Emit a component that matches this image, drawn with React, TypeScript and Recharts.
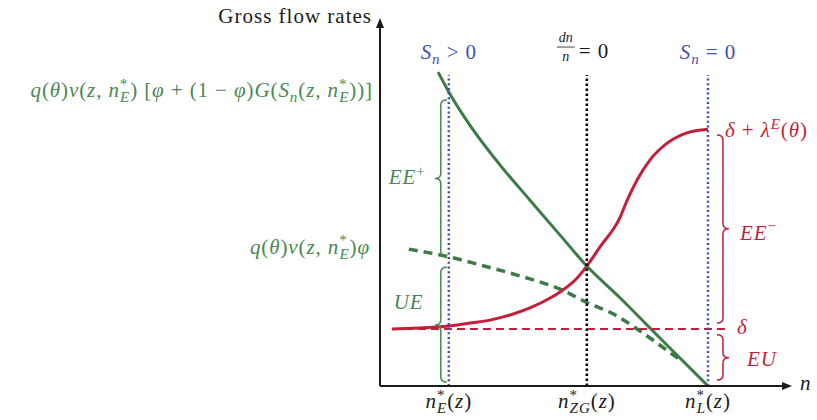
import React from 'react';
import { LineChart, Line, XAxis, YAxis, ReferenceLine, ReferenceDot } from 'recharts';

const GREEN = '#3c7a46';
const GREEN_TEXT = '#4a8752';
const RED = '#c41f3a';
const BLUE = '#3f52b3';
const INK = '#1b1b1b';
const SERIF = '"Liberation Serif", "DejaVu Serif", serif';
const FS = 21;

// key points on the n axis
const nE = 1.67;
const nZG = 5.02;
const nL = 7.96;
const nMax = 10;
const rateMax = 10;
// exogenous separation rate
const delta = 1.55;
// where the dotted guides stop
const guideTop = 8.45;

// q(θ)v(z,n)[φ + (1−φ)G(S_n)] : hires from unemployment and poaching
const hireAllN = [1.41, 1.67, 2.18, 2.91, 3.64, 4.37, 5.02, 5.83, 6.55, 7.28, 7.96];
const hireAllRate = [8.53, 7.99, 7.09, 6.01, 5.05, 4.1, 3.26, 2.39, 1.58, 0.76, 0];

// q(θ)v(z,n)φ : hires from unemployment only
const hireUN = [0.7, 1.67, 2.43, 3.4, 4.42, 5.02, 5.66, 6.24, 6.72, 7.28];
const hireURate = [3.72, 3.51, 3.29, 2.99, 2.61, 2.27, 1.96, 1.55, 1.17, 0.71];

// δ + λ^E(θ)·(share poached away) : total separations
const sepN = [0.29, 1.38, 1.67, 2.18, 2.67, 3.16, 3.64, 4.13, 4.44, 4.78, 5.02, 5.34, 5.83, 6.0, 6.24, 6.55, 6.97, 7.45, 7.96];
const sepRate = [1.55, 1.6, 1.63, 1.71, 1.79, 1.93, 2.12, 2.39, 2.61, 2.93, 3.26, 3.78, 4.59, 5.05, 5.6, 6.14, 6.6, 6.88, 6.98];

// braces: value range they span and where the tip sits
const greenBraces = [
  { top: 7.77, bottom: 3.51, tip: 5.64 },
  { top: 3.23, bottom: 0.11, tip: 1.66 },
];
const redBraces = [
  { top: 6.82, bottom: 1.71, tip: 4.27 },
  { top: 1.39, bottom: 0.16, tip: 0.77 },
];

const zip = (xs: number[], ys: number[]) => xs.map((x, i) => ({ x, y: ys[i] }));
const hireAll = zip(hireAllN, hireAllRate);
const hireU = zip(hireUN, hireURate);
const sep = zip(sepN, sepRate);

// --- tiny math typesetter: letters italic, _{..} subscript, ^{..} superscript
type Piece = { s: string; lvl: number; it: boolean; back: number };
const ITALIC = /[A-Za-zθφδλ]/;

function parseMath(src: string): Piece[] {
  const out: Piece[] = [];
  let i = 0;
  let lastSup = 0;
  while (i < src.length) {
    const c = src[i];
    if ((c === '_' || c === '^') && src[i + 1] === '{') {
      const end = src.indexOf('}', i);
      const inner = src.slice(i + 2, end);
      const lvl = c === '^' ? 1 : -1;
      const prev = out[out.length - 1];
      const back = lvl === -1 && prev && prev.lvl === 1 ? lastSup : 0;
      out.push({ s: inner, lvl, it: ITALIC.test(inner), back });
      if (lvl === 1) lastSup = inner.length;
      i = end + 1;
    } else {
      const it = ITALIC.test(c);
      const prev = out[out.length - 1];
      if (prev && prev.lvl === 0 && prev.it === it) prev.s += c;
      else out.push({ s: c, lvl: 0, it, back: 0 });
      i++;
    }
  }
  return out;
}

const MathText = ({ x, y, src, fill, anchor = 'start', fs = FS }: any) => {
  let cur = 0;
  return (
    <text x={x} y={y} fontSize={fs} fill={fill} textAnchor={anchor} fontFamily={SERIF} letterSpacing={0.9} style={{ whiteSpace: 'pre' }}>
      {parseMath(src).map((p, k) => {
        const off = p.lvl === 1 ? -0.4 * fs : p.lvl === -1 ? 0.25 * fs : 0;
        const dy = off - cur;
        cur = off;
        return (
          <tspan
            key={k}
            dy={dy}
            dx={p.back ? -p.back * 0.55 * fs * 0.72 : undefined}
            fontSize={p.lvl ? fs * 0.72 : fs}
            fontStyle={p.it ? 'italic' : 'normal'}
          >
            {p.s}
          </tspan>
        );
      })}
    </text>
  );
};

// text pinned to a data point, shifted by a few pixels
const at = (dx: number, dy: number, src: string, fill: string, anchor = 'start') => (p: any) => (
  <MathText x={p.cx + dx} y={p.cy + dy} src={src} fill={fill} anchor={anchor} />
);

const fractionLabel = (p: any) => {
  const cx = p.cx - 21;
  return (
    <g fontFamily={SERIF} fill={INK}>
      <text x={cx} y={p.cy - 33} fontSize={14} fontStyle="italic" textAnchor="middle">dn</text>
      <line x1={cx - 9} x2={cx + 9} y1={p.cy - 28} y2={p.cy - 28} stroke={INK} strokeWidth={0.8} />
      <text x={cx} y={p.cy - 14} fontSize={14} fontStyle="italic" textAnchor="middle">n</text>
      <text x={cx + 13} y={p.cy - 17} fontSize={FS} letterSpacing={0.9} style={{ whiteSpace: 'pre' }}>= 0</text>
    </g>
  );
};

const braceShape = (span: { top: number; bottom: number; tip: number }, side: 'left' | 'right', color: string) => (p: any) => {
  const { x1, y1, y2 } = p;
  const tip = y1 + ((y2 - y1) * (span.top - span.tip)) / (span.top - span.bottom);
  const dir = side === 'left' ? -1 : 1;
  const e = x1 + (side === 'left' ? -2 : 9);
  const v = e + 6 * dir;
  const t = e + 12 * dir;
  const r = 5;
  const d = `M${e},${y1} Q${v},${y1} ${v},${y1 + r} L${v},${tip - r} Q${v},${tip} ${t},${tip} Q${v},${tip} ${v},${tip + r} L${v},${y2 - r} Q${v},${y2} ${e},${y2}`;
  return <path d={d} fill="none" stroke={color} strokeWidth={1.5} />;
};

const arrowShape = (p: any) => {
  const { x1, y1, x2, y2 } = p;
  const len = Math.hypot(x2 - x1, y2 - y1);
  const ux = (x2 - x1) / len;
  const uy = (y2 - y1) / len;
  const bx = x2 - ux * 10;
  const by = y2 - uy * 10;
  const pts = `${x2},${y2} ${bx - uy * 4},${by + ux * 4} ${bx + uy * 4},${by - ux * 4}`;
  return (
    <g>
      <line x1={x1} y1={y1} x2={x2 - ux * 6} y2={y2 - uy * 6} stroke={INK} strokeWidth={2} />
      <polygon points={pts} fill={INK} />
    </g>
  );
};

export default function App() {
  return (
    <div style={{ position: 'absolute', left: 0, top: 0, width: 817, height: 420, background: '#fff' }}>
      <LineChart width={817} height={420} margin={{ top: 18, right: 25, bottom: 34, left: 380 }}>
        <XAxis type="number" dataKey="x" domain={[0, nMax]} hide allowDataOverflow />
        <YAxis type="number" dataKey="y" domain={[0, rateMax]} hide allowDataOverflow />

        <Line data={hireU} dataKey="y" type="monotone" stroke={GREEN} strokeWidth={3.5} strokeDasharray="9 6" dot={false} isAnimationActive={false} />
        <Line data={sep} dataKey="y" type="monotone" stroke={RED} strokeWidth={3} dot={false} isAnimationActive={false} />
        <Line data={hireAll} dataKey="y" type="monotone" stroke={GREEN} strokeWidth={3} dot={false} isAnimationActive={false} />

        <ReferenceLine segment={[{ x: 0.29, y: delta }, { x: 8.42, y: delta }]} stroke={RED} strokeWidth={2} strokeDasharray="8 5" ifOverflow="visible" />
        <ReferenceLine segment={[{ x: nE, y: 0 }, { x: nE, y: guideTop }]} stroke={BLUE} strokeWidth={2.5} strokeDasharray="2 2.7" ifOverflow="visible" />
        <ReferenceLine segment={[{ x: nZG, y: 0 }, { x: nZG, y: guideTop }]} stroke="#000" strokeWidth={2.5} strokeDasharray="2.5 2.5" ifOverflow="visible" />
        <ReferenceLine segment={[{ x: nL, y: 0 }, { x: nL, y: guideTop }]} stroke={BLUE} strokeWidth={2.5} strokeDasharray="2 2.7" ifOverflow="visible" />

        {greenBraces.map((b, i) => (
          <ReferenceLine key={`g${i}`} segment={[{ x: nE, y: b.top }, { x: nE, y: b.bottom }]} ifOverflow="visible" shape={braceShape(b, 'left', GREEN_TEXT)} />
        ))}
        {redBraces.map((b, i) => (
          <ReferenceLine key={`r${i}`} segment={[{ x: nL, y: b.top }, { x: nL, y: b.bottom }]} ifOverflow="visible" shape={braceShape(b, 'right', RED)} />
        ))}

        <ReferenceLine segment={[{ x: 0, y: 0 }, { x: nMax, y: 0 }]} ifOverflow="visible" shape={arrowShape} />
        <ReferenceLine segment={[{ x: 0, y: 0 }, { x: 0, y: rateMax }]} ifOverflow="visible" shape={arrowShape} />

        <ReferenceDot x={0} y={rateMax} r={0} ifOverflow="visible" shape={(p: any) => (
          <text x={p.cx - 8} y={p.cy + 5} fontSize={21} letterSpacing={1} fontFamily={SERIF} fill={INK} textAnchor="end">Gross flow rates</text>
        )} />
        <ReferenceDot x={0} y={hireAllRate[1]} r={0} ifOverflow="visible"
          shape={at(-7, 5, 'q(θ)v(z, n^{*}_{E}) [φ + (1 − φ)G(S_{n}(z, n^{*}_{E}))]', GREEN_TEXT, 'end')} />
        <ReferenceDot x={0} y={hireURate[1]} r={0} ifOverflow="visible"
          shape={at(-10, -3, 'q(θ)v(z, n^{*}_{E})φ', GREEN_TEXT, 'end')} />

        <ReferenceDot x={nE} y={guideTop} r={0} ifOverflow="visible" shape={at(0, -16, 'S_{n} > 0', BLUE, 'middle')} />
        <ReferenceDot x={nZG} y={guideTop} r={0} ifOverflow="visible" shape={fractionLabel} />
        <ReferenceDot x={nL} y={guideTop} r={0} ifOverflow="visible" shape={at(0, -16, 'S_{n} = 0', BLUE, 'middle')} />

        <ReferenceDot x={nL} y={sepRate[sepRate.length - 1]} r={0} ifOverflow="visible" shape={at(17, 8, 'δ + λ^{E}(θ)', RED)} />
        <ReferenceDot x={nL} y={redBraces[0].tip} r={0} ifOverflow="visible" shape={at(32, 11, 'EE^{−}', RED)} />
        <ReferenceDot x={nL} y={delta} r={0} ifOverflow="visible" shape={at(29, 5, 'δ', RED)} />
        <ReferenceDot x={nL} y={redBraces[1].tip} r={0} ifOverflow="visible" shape={at(39, 8, 'EU', RED)} />

        <ReferenceDot x={nE} y={greenBraces[0].tip} r={0} ifOverflow="visible" shape={at(-60, 6, 'EE^{+}', GREEN_TEXT)} />
        <ReferenceDot x={nE} y={(hireURate[1] + sepRate[2]) / 2} r={0} ifOverflow="visible" shape={at(-55, 18, 'UE', GREEN_TEXT)} />

        <ReferenceDot x={nE} y={0} r={0} ifOverflow="visible" shape={at(0, 22, 'n^{*}_{E}(z)', INK, 'middle')} />
        <ReferenceDot x={nZG} y={0} r={0} ifOverflow="visible" shape={at(0, 22, 'n^{*}_{ZG}(z)', INK, 'middle')} />
        <ReferenceDot x={nL} y={0} r={0} ifOverflow="visible" shape={at(0, 22, 'n^{*}_{L}(z)', INK, 'middle')} />
        <ReferenceDot x={nMax} y={0} r={0} ifOverflow="visible" shape={at(8, 4, 'n', INK)} />
      </LineChart>
    </div>
  );
}
